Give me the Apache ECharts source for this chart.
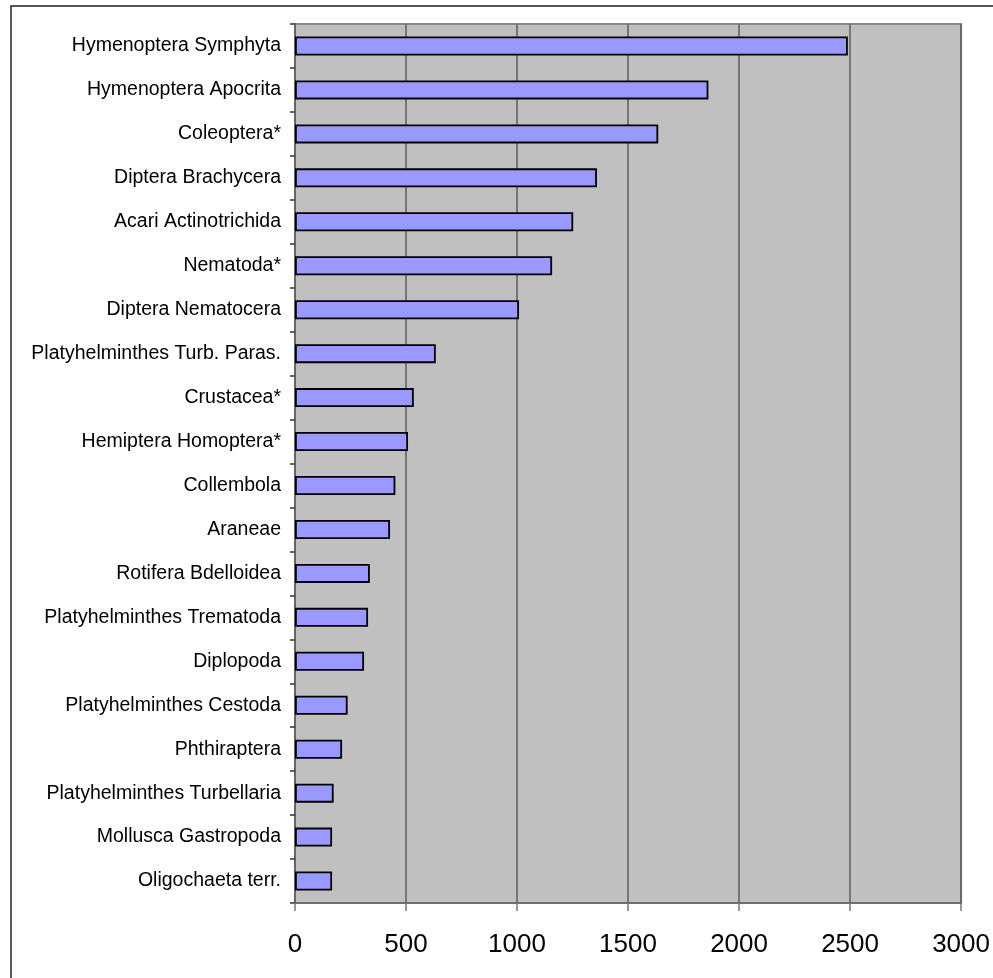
<!DOCTYPE html>
<html>
<head>
<meta charset="utf-8">
<script src="https://cdn.jsdelivr.net/npm/echarts@6/dist/echarts.min.js"></script>
<style>
  html, body { margin: 0; padding: 0; background: #fff; }
  #main { width: 993px; height: 978px; }
</style>
</head>
<body>
<div id="main"></div>
<script>
// categories, top to bottom
var taxa = [
	'Hymenoptera Symphyta', 'Hymenoptera Apocrita', 'Coleoptera*', 'Diptera Brachycera',
	'Acari Actinotrichida', 'Nematoda*', 'Diptera Nematocera', 'Platyhelminthes Turb. Paras.',
	'Crustacea*', 'Hemiptera Homoptera*', 'Collembola', 'Araneae',
	'Rotifera Bdelloidea', 'Platyhelminthes Trematoda', 'Diplopoda', 'Platyhelminthes Cestoda',
	'Phthiraptera', 'Platyhelminthes Turbellaria', 'Mollusca Gastropoda', 'Oligochaeta terr.'
];
var counts = [
	2490, 1862, 1636, 1360,
	1253, 1158, 1009, 634,
	535, 509, 452, 428,
	337, 329, 311, 237,
	212, 174, 167, 167
];
var xTicks = [0, 500, 1000, 1500, 2000, 2500, 3000];

var chart = echarts.init(document.getElementById('main'));

var option = {
	animation: false,
	backgroundColor: '#ffffff',
	graphic: [{
		type: 'rect',
		shape: { x: 11, y: 6, width: 1100, height: 1100 },
		style: { fill: 'none', stroke: '#222', lineWidth: 1.5 },
		silent: true
	}],
	grid: {
		show: true,
		left: 295,
		right: 31,
		top: 24,
		bottom: 75,
		backgroundColor: '#c0c0c0',
		borderColor: '#8a8a8a',
		borderWidth: 2
	},
	xAxis: {
		type: 'value',
		min: xTicks[0],
		max: xTicks[xTicks.length - 1],
		interval: 500,
		axisLine: { show: true, lineStyle: { color: '#666', width: 1.5 } },
		axisTick: { show: true, length: 8, lineStyle: { color: '#777', width: 1.5 } },
		splitLine: { show: true, lineStyle: { color: '#5e5e5e', width: 1.5 } },
		axisLabel: {
			color: '#000',
			fontFamily: 'Liberation Sans, Arial',
			fontSize: 26,
			margin: 29,
			formatter: function(v){ return String(v); }
		}
	},
	yAxis: {
		type: 'category',
		inverse: true,
		data: taxa,
		axisLine: { show: true, lineStyle: { color: '#666', width: 1.5 } },
		axisTick: { show: true, length: 5, lineStyle: { color: '#333', width: 1.5 } },
		axisLabel: {
			color: '#000',
			fontFamily: 'Liberation Sans, Arial',
			fontSize: 19.5,
			margin: 14
		}
	},
	series: [{
		type: 'bar',
		data: counts,
		barWidth: 19,
		itemStyle: {
			color: '#9999ff',
			borderColor: '#000',
			borderWidth: 1.8
		}
	}]
};

chart.setOption(option);
</script>
</body>
</html>
